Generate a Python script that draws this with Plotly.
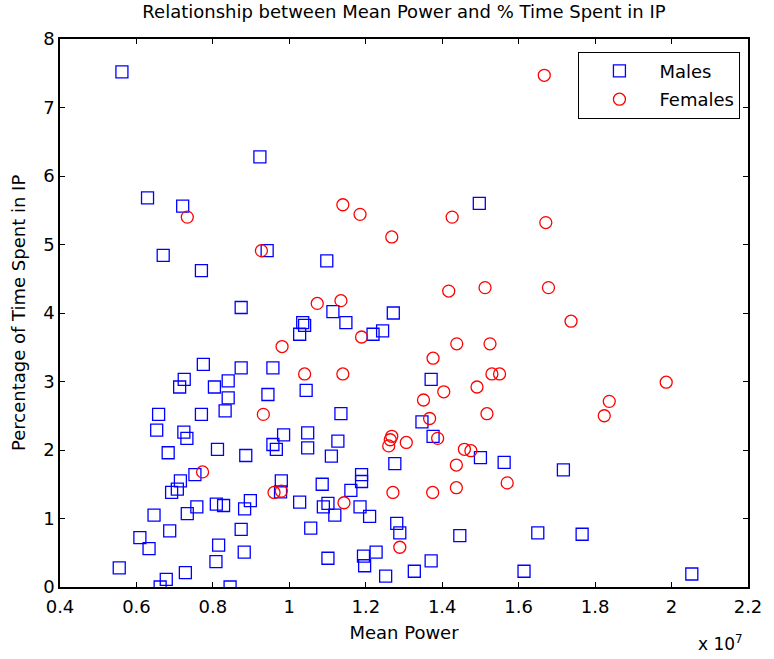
import plotly.graph_objects as go

# Mean power in units of 1e7 (axis shows "x 10^7"), % time in IP
males_power = [
    0.562, 0.629, 0.721, 0.923, 1.497, 0.670, 0.942, 0.770, 0.874, 0.775,
    0.874, 0.957, 0.725, 0.713, 0.804, 0.840, 0.840, 0.944, 0.658, 0.770,
    0.832, 0.653, 0.724, 0.732, 0.683, 0.812, 0.886, 0.957, 0.966, 0.985,
    0.753, 0.715, 0.707, 0.692, 0.979, 0.977, 0.758, 0.733, 0.809, 0.828,
    0.898, 0.883, 0.646, 0.687, 0.874, 0.609, 0.633, 0.815, 0.808, 0.882,
    0.555, 0.728, 0.678, 0.662, 0.845, 1.098, 1.114, 1.148, 1.272, 1.035,
    1.040, 1.027, 1.219, 1.244, 1.371, 1.044, 1.135, 1.347, 1.376, 1.048,
    1.048, 1.127, 1.110, 1.500, 1.562, 1.276, 1.189, 1.189, 1.086, 1.161,
    1.027, 1.101, 1.089, 1.185, 1.119, 1.210, 1.056, 1.281, 1.289, 1.446,
    1.101, 1.194, 1.227, 1.197, 1.371, 1.327, 1.252, 1.614, 1.717, 1.650,
    1.766, 2.053,
]
males_ip = [
    7.52, 5.68, 5.56, 6.28, 5.60, 4.84, 4.91, 4.62, 4.08, 3.25,
    3.20, 3.20, 3.03, 2.92, 2.92, 3.01, 2.76, 2.81, 2.52, 2.52,
    2.57, 2.29, 2.26, 2.17, 1.96, 2.01, 1.92, 2.08, 2.01, 2.22,
    1.64, 1.55, 1.43, 1.38, 1.55, 1.39, 1.17, 1.07, 1.21, 1.19,
    1.26, 1.14, 1.05, 0.82, 0.84, 0.72, 0.56, 0.61, 0.37, 0.51,
    0.28, 0.21, 0.11, 0.00, 0.00, 4.76, 4.02, 3.86, 4.00, 3.86,
    3.82, 3.69, 3.69, 3.74, 3.03, 2.87, 2.53, 2.41, 2.20, 2.25,
    2.03, 2.13, 1.91, 1.89, 1.82, 1.80, 1.64, 1.54, 1.50, 1.41,
    1.24, 1.22, 1.17, 1.17, 1.05, 1.03, 0.86, 0.93, 0.79, 0.75,
    0.42, 0.45, 0.51, 0.31, 0.38, 0.23, 0.16, 0.23, 1.71, 0.79,
    0.77, 0.19,
]

females_power = [
    0.733, 1.140, 1.185, 1.426, 1.268, 1.667, 1.671, 0.927, 0.981, 0.932,
    0.773, 0.960, 0.979, 1.417, 1.512, 1.073, 1.135, 1.189, 1.438, 1.525,
    1.376, 1.040, 1.140, 1.530, 1.550, 1.491, 1.404, 1.351, 1.517, 1.367,
    1.678, 1.737, 1.986, 1.837, 1.824, 1.388, 1.268, 1.264, 1.260, 1.306,
    1.458, 1.475, 1.437, 1.570, 1.437, 1.271, 1.375, 1.143, 1.289,
]
females_ip = [
    5.40, 5.58, 5.44, 5.40, 5.11, 7.47, 5.32, 4.91, 3.51, 2.52,
    1.68, 1.38, 1.40, 4.32, 4.37, 4.14, 4.18, 3.65, 3.55, 3.55,
    3.34, 3.11, 3.11, 3.11, 3.11, 2.92, 2.85, 2.73, 2.53, 2.46,
    4.37, 3.88, 2.99, 2.71, 2.50, 2.17, 2.20, 2.15, 2.06, 2.11,
    2.01, 1.99, 1.78, 1.52, 1.45, 1.38, 1.38, 1.23, 0.58,
]

x_ticks = [0.4, 0.6, 0.8, 1.0, 1.2, 1.4, 1.6, 1.8, 2.0, 2.2]
x_tick_labels = ["0.4", "0.6", "0.8", "1", "1.2", "1.4", "1.6", "1.8", "2", "2.2"]
y_ticks = [0, 1, 2, 3, 4, 5, 6, 7, 8]

FONT = "DejaVu Sans, Arial, sans-serif"

fig = go.Figure()

fig.add_trace(
    go.Scatter(
        x=males_power,
        y=males_ip,
        mode="markers",
        name="Males",
        legendgroup="m",
        marker=dict(symbol="square-open", size=12, color="#0000ff",
                    line=dict(width=1.3)),
    )
)
fig.add_trace(
    go.Scatter(
        x=females_power,
        y=females_ip,
        mode="markers",
        name="Females",
        legendgroup="f",
        marker=dict(symbol="circle-open", size=12, color="#ff0000",
                    line=dict(width=1.3)),
    )
)

axis_style = dict(
    showline=True,
    linewidth=1.5,
    linecolor="black",
    mirror="allticks",
    ticks="inside",
    ticklen=5,
    tickwidth=1,
    tickcolor="black",
    showgrid=False,
    zeroline=False,
    tickfont=dict(size=18, color="black", family=FONT),
)

fig.update_layout(
    width=774,
    height=659,
    plot_bgcolor="white",
    paper_bgcolor="white",
    font=dict(family=FONT, color="black"),
    title=dict(
        text="Relationship between Mean Power and % Time Spent in IP",
        x=0.5,
        xref="paper",
        xanchor="center",
        y=1 - 12 / 659,
        yanchor="middle",
        font=dict(size=18, color="black"),
    ),
    xaxis=dict(
        **axis_style,
        range=[0.4, 2.2],
        tickvals=x_ticks,
        ticktext=x_tick_labels,
        ticklabelstandoff=3,
        title=dict(text="Mean Power", font=dict(size=18), standoff=10),
    ),
    yaxis=dict(
        **axis_style,
        range=[0, 8],
        tickvals=y_ticks,
    ),
    legend=dict(
        x=0.989,
        xanchor="right",
        y=0.977,
        yanchor="top",
        bordercolor="black",
        borderwidth=1,
        bgcolor="white",
        font=dict(size=18, color="black"),
        itemwidth=70,
        tracegroupgap=2,
    ),
    annotations=[
        # y-axis title, placed as an annotation so it can sit close to the edge
        dict(
            text="Percentage of Time Spent in IP",
            xref="paper",
            yref="paper",
            x=0,
            y=0.5,
            xshift=-42,
            textangle=-90,
            xanchor="center",
            yanchor="middle",
            showarrow=False,
            font=dict(size=18, color="black"),
        ),
        dict(
            text="x 10<sup>7</sup>",
            xref="paper",
            yref="paper",
            x=0.96,
            y=0,
            yshift=-56,
            xanchor="center",
            yanchor="middle",
            showarrow=False,
            font=dict(size=17, color="black"),
        ),
    ],
    margin=dict(l=60, r=20, t=39, b=72),
)

# drop the browser's default body margin so the figure sits at the page corner
fig.write_html(
    "out.html",
    config={"displayModeBar": False},
    post_script="document.body.style.margin='0';",
)
